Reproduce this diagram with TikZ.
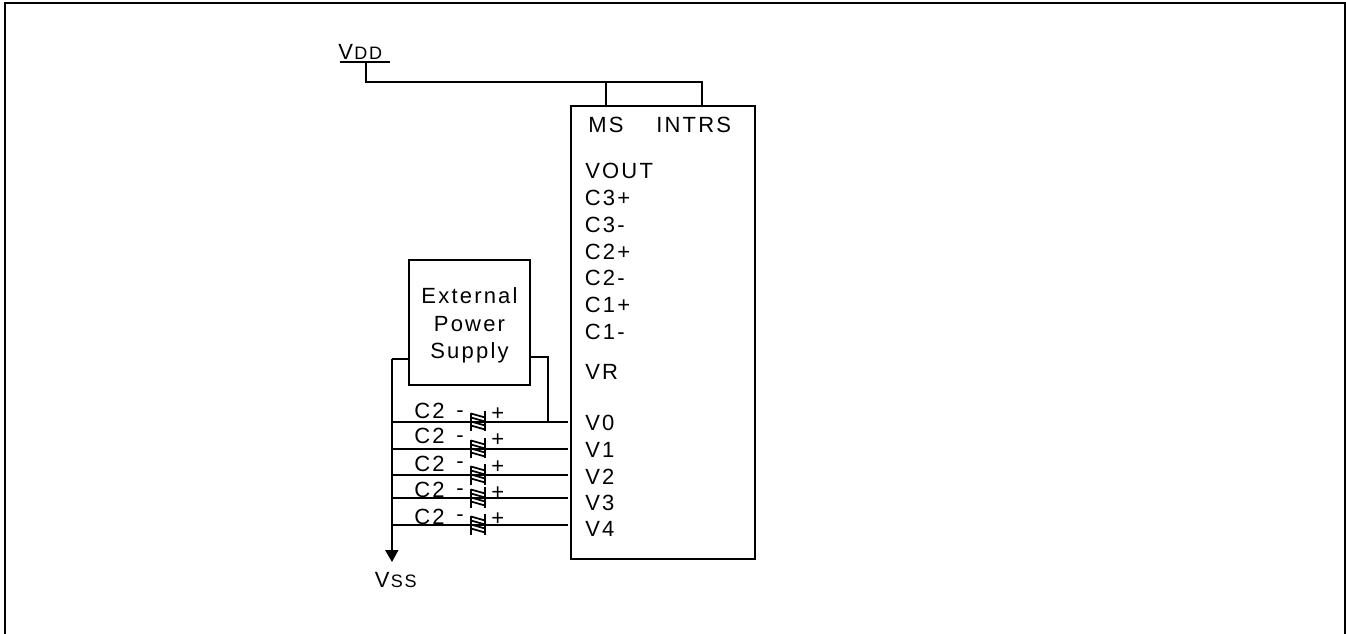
\documentclass[tikz,border=0pt]{standalone}
\usepackage{fontspec}
\setmainfont{Liberation Sans}[LetterSpace=10]
\usetikzlibrary{arrows.meta}
\tikzset{
  px/.style={x=0.75pt,y=-0.75pt},
  wire/.style={line width=1.9pt,line join=miter},
  thin wire/.style={line width=1.3pt},
  boxed/.style={draw,line width=1.2pt,inner sep=0pt,anchor=north west},
  lab/.style={inner sep=0pt,anchor=base west,font=\fontsize{16.5}{18}\selectfont},
  clab/.style={inner sep=0pt,anchor=base,font=\fontsize{16.5}{18}\selectfont},
}
\newcommand{\capsym}[1]{%
  \draw[line width=1.5pt] (471,#1-9) -- (471,#1+9.5);
  \draw[line width=1.5pt] (485,#1-11) -- (485,#1+9.5);
  \foreach \d in {-7,-3,1,5}{\draw[line width=1.3pt] (471,#1+\d-1.5) -- (485,#1+\d+2.5);}
}
\begin{document}
\begin{tikzpicture}[px]
\useasboundingbox (0,0) rectangle (1346,634);
\draw[line width=1.5pt] (5,640) -- (5,3) -- (1345,3) -- (1345,640);
% main chip
\node[boxed,minimum width=138pt,minimum height=340pt] (chip) at (570,105) {};
% external supply
\node[boxed,minimum width=90.75pt,minimum height=94pt] (ext) at (408,259) {};
\node[clab] at (469.5,303.5) {External};
\node[clab] at (469.5,331.5) {Power};
\node[clab] at (469.5,359) {Supply};
% VDD
\node[lab] (vdd) at (338,59.5) {V{\fontsize{13.5}{15}\selectfont\kern1pt DD}};
\coordinate (vddl) at (340,62);
\coordinate (vddr) at (390,62);
\coordinate (vddm) at (366,62);
\coordinate (ms) at (606,105);
\coordinate (intrs) at (702,105);
\draw[wire] (vddl) -- (vddr);
\draw[wire] (vddm) |- (702,82) -- (intrs);
\draw[wire] (ms) -- (606,82);
% chip labels
\node[lab] at (588,133) {MS};
\node[lab] at (656,133) {INTRS};
\node[lab] at (585,179) {VOUT};
\node[lab] at (584.5,206) {C3+};
\node[lab] at (584.5,233) {C3-};
\node[lab] at (584.5,260) {C2+};
\node[lab] at (584.5,286) {C2-};
\node[lab] at (584.5,313) {C1+};
\node[lab] at (584.5,340) {C1-};
\node[lab] at (585,380) {VR};
\node[lab] at (585,431) {V0};
\node[lab] at (585,458) {V1};
\node[lab] at (585,484) {V2};
\node[lab] at (585,510) {V3};
\node[lab] at (585,536) {V4};
% supply wiring
\coordinate (rail) at (392,359);
\draw[thin wire] (ext.west |- rail) -- (rail);
\draw[line width=1.5pt] (rail) -- (392,552);
\fill (385,550) -- (398.5,550) -- (392,562) -- cycle;
\coordinate (er) at (529,357);
\draw[thin wire] (er) -- (548,357) -- (548,422);
\foreach \y in {422,449,475,498,525}{
  \draw[wire] (392,\y) -- (568,\y);
}
\capsym{422}\capsym{449}\capsym{475}\capsym{498}\capsym{525}
\foreach \t/\m/\p in {419/418/421,444/443/447,471/469/474,498/495/499,524/521/525}{
  \node[lab] at (414,\t) {C2};
  \node[lab] at (456,\m) {-};
  \node[lab] at (491,\p) {+};
}
\node[lab] at (374.5,587) {V{\fontsize{13.5}{15}\selectfont\kern1pt SS}};
\end{tikzpicture}
\end{document}
